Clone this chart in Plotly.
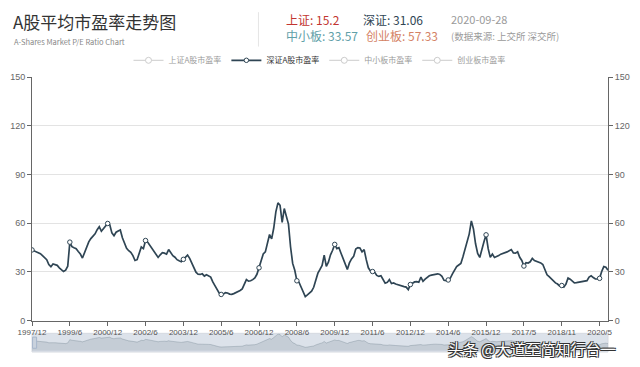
import plotly.graph_objects as go

# ---------------- data ----------------
sz_pe = [
    43.5, 43.0, 42.6, 41.8, 41.2, 40.0, 39.0, 37.5, 34.5, 33.2,
    34.8, 34.6, 34.0, 32.5, 31.0, 30.2, 31.0, 33.5, 48.3, 45.5,
    44.8, 44.2, 42.5, 41.0, 38.5, 42.0, 45.3, 48.5, 50.5, 52.0,
    53.4, 56.0, 57.8, 55.0, 56.5, 58.5, 59.8, 59.0, 54.0, 52.3,
    54.4, 55.2, 55.8, 51.0, 47.5, 44.5, 43.0, 42.0, 40.0, 37.0,
    37.5, 41.0, 45.3, 44.3, 49.3, 48.3, 46.5, 44.0, 42.3, 40.5,
    38.9, 40.5, 41.8, 41.5, 40.9, 43.7, 41.5, 40.0, 39.0, 37.5,
    36.8, 36.2, 37.7, 39.0, 40.3, 38.3, 35.5, 33.2, 29.8, 28.5,
    28.4, 28.8, 27.4, 28.2, 27.5, 26.8, 23.8, 21.5, 18.8, 17.0,
    16.1, 16.3, 17.2, 17.0, 16.3, 16.2, 16.6, 17.1, 17.8, 18.5,
    19.5, 22.5, 25.2, 24.3, 24.5, 25.2, 26.2, 28.5, 32.5, 37.0,
    41.0, 42.3, 47.3, 53.0, 50.3, 57.0, 67.0, 72.5, 71.0, 60.4,
    69.0, 64.5, 59.4, 45.3, 35.2, 31.0, 24.5, 23.6, 20.5, 18.0,
    14.7, 15.8, 17.0, 18.1, 20.5, 25.0, 29.2, 31.5, 34.0, 40.3,
    33.4, 36.0, 40.5, 43.3, 46.9, 44.3, 44.9, 41.5, 38.0, 35.2,
    31.5, 35.5, 38.0, 39.5, 44.0, 44.9, 44.7, 42.3, 43.7, 37.5,
    32.5, 30.5, 30.2, 29.8, 27.8, 27.2, 27.6, 25.0, 23.0, 23.5,
    25.2, 22.8, 23.2, 22.5, 22.0, 21.5, 21.2, 20.9, 20.6, 19.1,
    22.2, 23.3, 23.8, 24.0, 23.6, 26.8, 24.2, 25.5, 26.5, 27.6,
    28.0, 28.2, 28.5, 28.8, 28.4, 27.2, 24.8, 24.6, 25.0, 26.2,
    28.8, 31.0, 33.2, 34.2, 35.2, 39.3, 44.0, 49.0, 53.4, 61.4,
    56.4, 47.3, 41.3, 38.9, 43.0, 48.5, 52.8, 44.3, 38.9, 40.9,
    38.9, 39.3, 40.0, 40.9, 41.3, 41.7, 42.3, 43.0, 43.7, 41.7,
    41.5, 42.3, 39.0, 37.0, 33.6, 35.6, 35.4, 36.2, 38.3, 37.0,
    36.5, 36.2, 35.5, 34.5, 31.6, 28.2, 27.0, 25.8, 24.2, 23.2,
    22.5, 21.2, 21.6, 20.6, 22.5, 26.2, 25.5, 24.0, 23.2, 23.4,
    23.6, 23.8, 24.0, 24.3, 24.6, 26.8, 27.6, 26.5, 25.6, 25.6,
    26.0, 30.2, 33.2, 32.8, 31.06,
]
tick_labels = ["1997/12", "1999/6", "2000/12", "2002/6", "2003/12", "2005/6",
               "2006/12", "2008/6", "2009/12", "2011/6", "2012/12", "2014/6",
               "2015/12", "2017/5", "2018/11", "2020/5"]
TICK_STEP = 18
series_names = ["上证A股市盈率", "深证A股市盈率", "中小板市盈率", "创业板市盈率"]
latest = {"上证": "15.2", "深证": "31.06", "中小板": "33.57", "创业板": "57.33"}
date_str = "2020-09-28"
y_ticks = [0, 30, 60, 90, 120, 150]

x_idx = list(range(len(sz_pe)))
tickvals = [i * TICK_STEP for i in range(len(tick_labels))]

# ---------------- layout helpers ----------------
W, H = 640, 367
L, R, T, B = 31, 24, 77, 10
def px(x):
    return (x - L) / (W - L - R)
def py(y):
    return (H - B - y) / (H - T - B)

FONT = "Noto Sans CJK SC, Noto Sans, sans-serif"
TICKFONT = "Liberation Sans, Arial, sans-serif"
LINE = "#2f4554"
GREY = "#9a9a9a"

fig = go.Figure()

def legend_only(name):
    # series not shown on the chart (disabled in the legend)
    fig.add_trace(go.Scatter(x=[None], y=[None], name=name, mode="lines+markers",
                             visible="legendonly",
                             line=dict(color=GREY, width=1),
                             marker=dict(symbol="circle", size=6, color="white",
                                         line=dict(color=GREY, width=1))))

legend_only(series_names[0])

fig.add_trace(go.Scatter(
    x=x_idx, y=sz_pe, name=series_names[1], mode="lines+markers",
    line=dict(color=LINE, width=1.7),
    marker=dict(symbol="circle", size=4.5, color="white",
                line=dict(color=LINE, width=1)),
    selectedpoints=tickvals,
    selected=dict(marker=dict(opacity=1)),
    unselected=dict(marker=dict(opacity=0)),
    hoverinfo="x+y",
))

for name in series_names[2:]:
    legend_only(name)

# right axis carrier (invisible)
fig.add_trace(go.Scatter(x=x_idx, y=sz_pe, yaxis="y2", mode="lines",
                         line=dict(color="rgba(0,0,0,0)", width=0),
                         showlegend=False, hoverinfo="skip"))

# data-zoom slider shadow
fig.add_trace(go.Scatter(x=x_idx, y=sz_pe, xaxis="x2", yaxis="y3", mode="lines",
                         fill="tozeroy", fillcolor="rgba(47,69,84,0.13)",
                         line=dict(color="rgba(47,69,84,0.25)", width=0.8),
                         showlegend=False, hoverinfo="skip"))

axis_common = dict(range=[0, 150], tickvals=y_ticks, ticks="outside", ticklen=4,
                   tickcolor="#666", showline=True, linecolor="#666", linewidth=1,
                   tickfont=dict(size=9, color="#666", family=TICKFONT), zeroline=False)

fig.update_layout(
    width=W, height=H,
    margin=dict(l=L, r=R, t=T, b=B),
    paper_bgcolor="white", plot_bgcolor="white",
    font=dict(family=FONT),
    xaxis=dict(range=[0, len(sz_pe) - 1], tickvals=tickvals, ticktext=tick_labels,
               ticks="outside", ticklen=4, tickcolor="#666", showline=True,
               linecolor="#666", linewidth=1, showgrid=False, zeroline=False,
               tickfont=dict(size=8, color="#555", family=TICKFONT), tickangle=0,
               domain=[0, 1], anchor="y"),
    yaxis=dict(domain=[py(325), 1], showgrid=True, gridcolor="#e3e3e3", **axis_common),
    yaxis2=dict(overlaying="y", side="right", showgrid=False, anchor="x", **axis_common),
    xaxis2=dict(domain=[0, 1], anchor="y3", range=[0, len(sz_pe) - 1], visible=False),
    yaxis3=dict(domain=[0, py(338)], range=[-6, 76], visible=False),
    legend=dict(orientation="h", x=px(323), xanchor="center", y=py(60), yanchor="middle",
                font=dict(size=8, color="#333", family=FONT), itemwidth=30,
                bgcolor="rgba(0,0,0,0)", tracegroupgap=0),
    showlegend=True,
)

shapes = [
    dict(type="line", xref="paper", yref="paper", x0=px(261), x1=px(261),
         y0=py(11), y1=py(46), line=dict(color="#e5e5e5", width=1)),
    dict(type="rect", xref="x2 domain", yref="y3 domain", x0=0, x1=1, y0=0, y1=1,
         fillcolor="rgba(167,183,203,0.4)", line=dict(color="#d5d9e0", width=1),
         layer="below"),
    dict(type="rect", xref="x2 domain", yref="y3 domain", x0=0.001, x1=0.008,
         y0=0.2, y1=0.8, fillcolor="#c9d2dd", line=dict(color="#a7b7cc", width=1)),
]
fig.update_layout(shapes=shapes)

def ann(text, x, y, size, color, anchor="left"):
    fig.add_annotation(text=text, xref="paper", yref="paper", x=px(x), y=py(y),
                       xanchor=anchor, yanchor="middle", showarrow=False,
                       font=dict(size=size, color=color, family=FONT))

ann("A股平均市盈率走势图", 10, 20, 17, "#333")
ann("A-Shares Market P/E Ratio Chart", 11, 41, 7.5, "#888")
ann(f"上证: {latest['上证']}", 287, 18, 12, "#c23531")
ann(f"深证: {latest['深证']}", 365, 18, 12, "#2f4554")
ann(date_str, 455, 18, 11, GREY)
ann(f"中小板: {latest['中小板']}", 287, 35, 12, "#61a0a8")
ann(f"创业板: {latest['创业板']}", 368, 35, 12, "#d48265")
ann("(数据来源: 上交所 深交所)", 455, 35, 9.5, GREY)

fig.add_annotation(text="头条 @大道至简知行台一", xref="paper", yref="paper",
                   x=px(452), y=py(353), xanchor="left", yanchor="middle",
                   showarrow=False, borderpad=0,
                   font=dict(size=15, color="white", family=FONT,
                             shadow="1px 1px 0 #333, -1px -1px 0 #333, 1px -1px 0 #333, -1px 1px 0 #333"))

fig.write_html("out.html")
